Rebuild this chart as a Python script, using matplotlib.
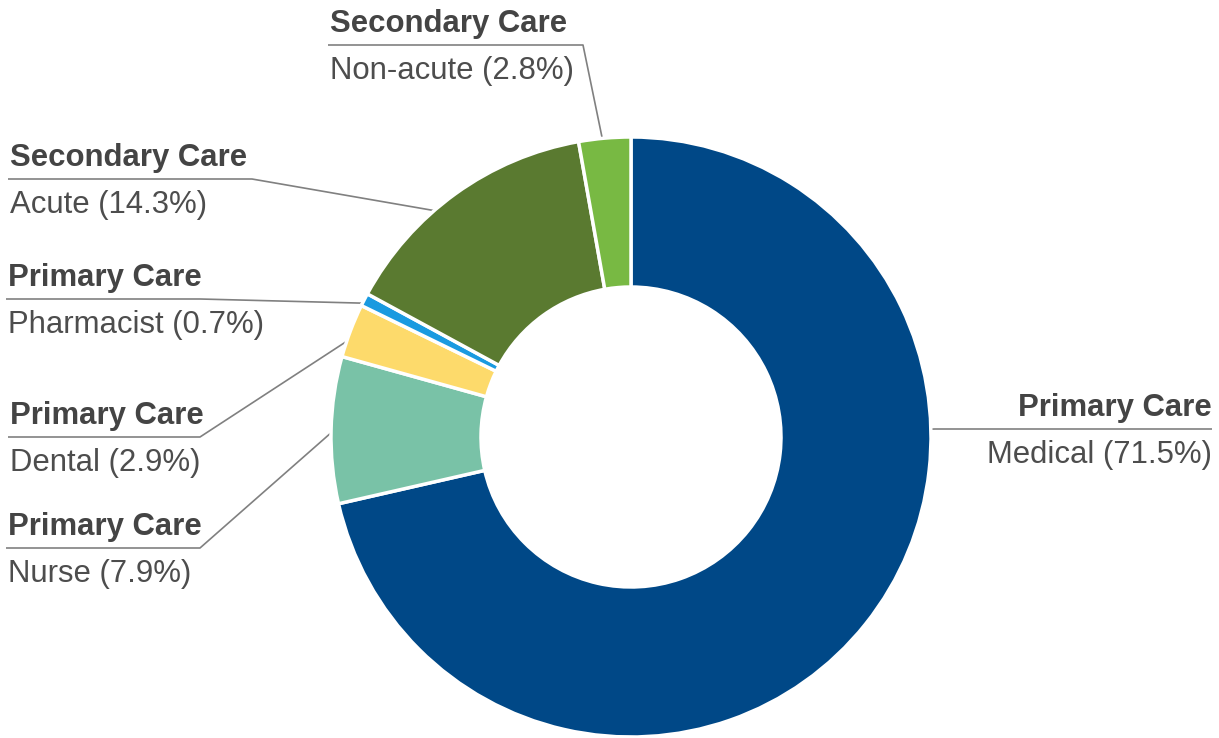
import numpy as np
import matplotlib.pyplot as plt

# share of spending by care type, clockwise from 12 o'clock
groups = ['Primary Care', 'Primary Care', 'Primary Care', 'Primary Care',
          'Secondary Care', 'Secondary Care']
services = ['Medical', 'Nurse', 'Dental', 'Pharmacist', 'Acute', 'Non-acute']
shares = [71.5, 7.9, 2.9, 0.7, 14.3, 2.8]
colors = ['#004887', '#79C2A7', '#FDDA6B', '#1A9AE0', '#5A7A30', '#78B943']

W, H = 1219, 738
cx, cy = 631, H - 437
R = 300

# label layout: rim angle (deg), line y (px from top), line start x, elbow x, align
label_layout = [
    (1.5, 429, 1212, 935, 'right'),
    (179.2, 548, 6, 200, 'left'),
    (161.4, 437, 8, 200, 'left'),
    (153.5, 299, 6, 200, 'left'),
    (131.0, 179, 8, 252, 'left'),
    (95.5, 45, 328, 583, 'left'),
]

plt.rcParams['font.family'] = ['Liberation Sans', 'DejaVu Sans']

fig = plt.figure(figsize=(W / 100, H / 100), dpi=100)
ax = fig.add_axes([0, 0, 1, 1])

ax.pie(shares, colors=colors, startangle=90, counterclock=False,
       radius=R, center=(cx, cy),
       wedgeprops=dict(width=150, edgecolor='white', linewidth=2.5))

for grp, svc, val, (ang, ly, x0, xe, ha) in zip(groups, services, shares, label_layout):
    a = np.deg2rad(ang)
    rx, ry = cx + R * np.cos(a), cy + R * np.sin(a)
    y = H - ly
    ax.plot([x0, xe, rx], [y, y, ry], color='#808080', lw=1.2,
            solid_capstyle='butt', zorder=0)
    tx = x0 + 2 if ha == 'left' else x0
    ax.text(tx, y + 13, grp, ha=ha, va='baseline', fontsize=22.4,
            fontweight='bold', color='#444444')
    ax.text(tx, y - 34, f'{svc} ({val}%)', ha=ha, va='baseline',
            fontsize=22.4, color='#4d4d4d')

ax.set_xlim(0, W)
ax.set_ylim(0, H)
ax.set_aspect('equal')
ax.axis('off')

fig.savefig('out.png', dpi=100)
